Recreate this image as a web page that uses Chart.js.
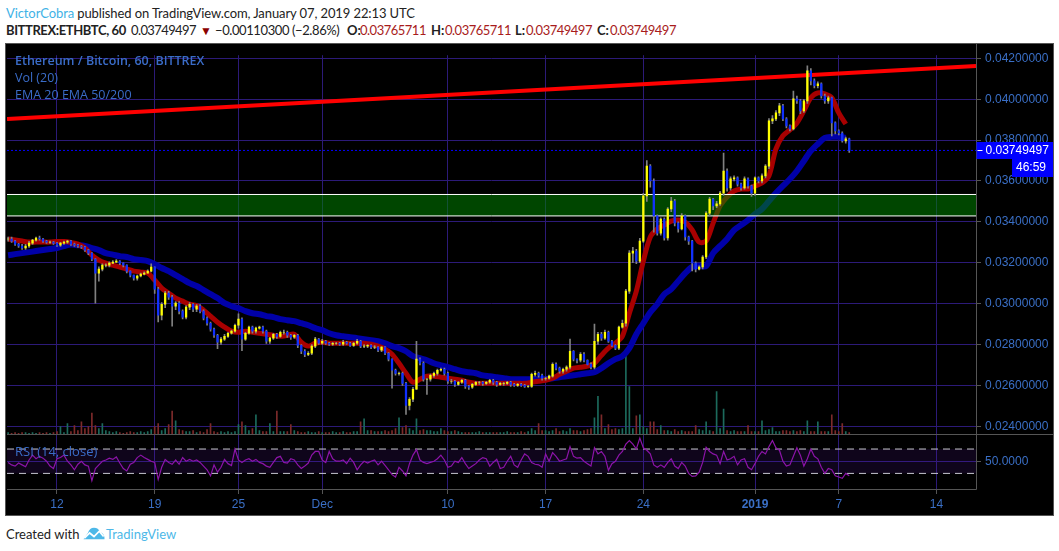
<!DOCTYPE html>
<html>
<head>
<meta charset="utf-8">
<title>ETHBTC</title>
<script src="https://cdn.jsdelivr.net/npm/chart.js@4"></script>
<style>
  html, body { margin: 0; padding: 0; background: #fff; }
  body { width: 1059px; height: 551px; position: relative; overflow: hidden; font-family: Lato, sans-serif; color: #222; }
  #publish { position: absolute; left: 6px; top: 5px; white-space: nowrap; font-size: 13px; letter-spacing: -0.1px; }
  #publish b { font-weight: 400; color: #3fb2e6; }
  #quote span { position: absolute; top: 22px; font-size: 13px; white-space: nowrap; }
  #quote .bold { font-weight: 700; }
  #quote .title { letter-spacing: -0.4px; }
  #quote .num { letter-spacing: -0.6px; }
  #quote .change { letter-spacing: -0.4px; }
  #quote .red { color: #a81c1c; letter-spacing: -0.5px; }
  #quote .down { color: #8b0000; font-size: 12px; top: 23px; }
  #panel { position: absolute; left: 6px; top: 44px; width: 1047px; height: 471px; background: #000; }
  #frame { position: absolute; left: 5px; top: 43px; width: 1047px; height: 471px; border: 1px solid #555; pointer-events: none; }
  .study { position: absolute; left: 15px; color: #3a6cc8; font-size: 12.5px; white-space: nowrap; font-family: "Open Sans", sans-serif; }
  #footer { position: absolute; left: 6px; top: 526px; font-size: 13px; color: #222; white-space: nowrap; }
  #footer span { color: #4db8e8; font-size: 13px; position: absolute; left: 100px; top: 0; }
  #footer svg { position: absolute; left: 76px; top: 0; }
</style>
</head>
<body>
<div id="publish"><b>VictorCobra</b> published on TradingView.com, January 07, 2019 22:13 UTC</div>
<div id="quote">
  <span class="bold title" style="left:6px">BITTREX:ETHBTC, 60</span>
  <span class="num" style="left:131px">0.03749497</span>
  <span class="down" style="left:200px">&#9660;</span>
  <span class="change" style="left:215px">&minus;0.00110300 (&minus;2.86%)</span>
  <span class="bold" style="left:347px">O:</span><span class="red" style="left:360px">0.03765711</span>
  <span class="bold" style="left:431px">H:</span><span class="red" style="left:445px">0.03765711</span>
  <span class="bold" style="left:515px">L:</span><span class="red" style="left:526px">0.03749497</span>
  <span class="bold" style="left:597px">C:</span><span class="red" style="left:610px">0.03749497</span>
</div>
<div id="panel"><canvas id="ethChart" width="1047" height="471"></canvas></div>
<div id="frame"></div>
<div class="study" style="top:52px;font-weight:600">Ethereum / Bitcoin, 60, BITTREX</div>
<div class="study" style="top:69px">Vol (20)</div>
<div class="study" style="top:86px">EMA 20 EMA 50/200</div>
<div class="study" style="top:442px;font-size:13px">RSI (14, close)</div>
<div id="footer">Created with
  <svg width="24" height="14" viewBox="0 0 26 16"><path d="M1 15 L6 8 Q8 2 13 2 Q18 2 20 7 Q25 8 25 15 Z" fill="#4db8e8"/><path d="M2 14 L8 8 L13 12 L19 6 L24 12" fill="none" stroke="#fff" stroke-width="2"/></svg>
  <span>TradingView</span>
</div>
<script>
// Hourly chart read back at one candle every 6 hours
const firstDay = 8.5;   // Nov 8, midday
const candleStep = 0.25;
const closes = [.03316,.03306,.03291,.03282,.03272,.03282,.03296,.03311,.03321,.03316,.03306,.03301,.03301,.03296,.03286,.03296,.03301,.03306,.03291,.03286,.03282,.03277,.03262,.03247,.03218,.03149,.03169,.03188,.03188,.03198,.03203,.03208,.03198,.03188,.03159,.03139,.03125,.03135,.03144,.03149,.03159,.03179,.03071,.02943,.02997,.03051,.03032,.02988,.03002,.02963,.02934,.02983,.02997,.02973,.02988,.02963,.02929,.02904,.02875,.02845,.02811,.02826,.0284,.02855,.02865,.02894,.02924,.02826,.02855,.02885,.02865,.0288,.02885,.02865,.02816,.02831,.0285,.0284,.0286,.0286,.02845,.02836,.02845,.02796,.02767,.02752,.02757,.02792,.02826,.02806,.02816,.02806,.02801,.02806,.02806,.02801,.02811,.02806,.02796,.02806,.02816,.02792,.02792,.02796,.02787,.02787,.02772,.02787,.02757,.02728,.02674,.02659,.02659,.0261,.02502,.02532,.02581,.02728,.02708,.0263,.0263,.02649,.02659,.02674,.02679,.02659,.0262,.0262,.02605,.02615,.02625,.02595,.02591,.02605,.02615,.02615,.0261,.02615,.02625,.02615,.02605,.0261,.0261,.02615,.02605,.026,.02605,.026,.02595,.02595,.02654,.02659,.02649,.02635,.02635,.02645,.02703,.02684,.02669,.02679,.02689,.02767,.02728,.02723,.02752,.02723,.02703,.02689,.02816,.0285,.02831,.0286,.02816,.02796,.02782,.02885,.02904,.03061,.03247,.03257,.03208,.03306,.03527,.03673,.036,.03429,.03345,.03414,.03321,.03463,.03502,.03394,.03365,.03429,.03326,.03306,.03198,.03169,.03179,.03228,.03443,.03512,.03478,.03488,.03541,.03649,.03566,.0361,.03615,.03585,.03566,.0361,.03576,.03541,.03615,.036,.03625,.03673,.03894,.03904,.03933,.03968,.03904,.0387,.03855,.04002,.03992,.03943,.03992,.04139,.0409,.04066,.04075,.04016,.03992,.04007,.03884,.03845,.03835,.03796,.03806,.03749];
const highs = [.03325,.03325,.0331,.03295,.0329,.0329,.03305,.03315,.03326,.0333,.0332,.0331,.03306,.03305,.033,.033,.03306,.0331,.0331,.03296,.0329,.03285,.0328,.03265,.0325,.0322,.0318,.03195,.03195,.03205,.0321,.03215,.0321,.032,.0319,.0316,.0314,.0314,.0315,.03155,.03165,.03195,.0318,.0308,.03005,.0306,.0306,.0304,.0301,.0301,.0297,.0299,.03005,.03,.02995,.02995,.0297,.02935,.0291,.0288,.0285,.02835,.0285,.0286,.0287,.029,.0295,.0293,.0286,.0289,.0289,.02885,.0289,.0289,.0287,.02835,.02855,.02855,.02865,.0287,.02865,.0285,.0285,.0285,.028,.02775,.02765,.028,.02835,.0283,.02825,.0282,.0281,.0281,.0281,.0281,.0282,.02815,.0281,.0281,.02825,.0282,.028,.028,.028,.02795,.0279,.0279,.0279,.0276,.0273,.0268,.02665,.02665,.02615,.0254,.0259,.02816,.02735,.02715,.02635,.02655,.02665,.0268,.02685,.02685,.02665,.0263,.02625,.0262,.0263,.0263,.026,.0261,.0262,.0262,.0262,.0262,.0263,.0263,.0262,.02615,.02615,.0262,.0262,.0261,.0261,.0261,.02605,.026,.0266,.0267,.02665,.02655,.0264,.0265,.0271,.0271,.0269,.02685,.02695,.02826,.0277,.0273,.0276,.0276,.02725,.0271,.029,.0286,.0286,.0287,.02865,.0282,.028,.0289,.0292,.0307,.0326,.03275,.03265,.0332,.0354,.037,.0368,.0361,.03435,.0342,.0342,.0347,.0352,.0351,.034,.0344,.03435,.0333,.0331,.03205,.03185,.03235,.0345,.0352,.03515,.035,.0355,.03737,.0366,.0362,.03625,.0362,.0359,.0362,.03615,.0358,.0362,.0362,.03635,.0368,.03905,.0392,.03945,.0398,.03975,.0391,.03875,.0404,.04015,.04,.04,.04163,.0415,.041,.04085,.0408,.04025,.04015,.0401,.0389,.0385,.0384,.03815,.0381];
const lows = [.03305,.033,.03285,.03275,.03265,.03265,.03275,.0329,.03305,.0331,.033,.03295,.03295,.0329,.0328,.0328,.0329,.03295,.03285,.0328,.03275,.0327,.03255,.0324,.0321,.03002,.0311,.0316,.0318,.0318,.03195,.032,.0319,.0318,.0315,.0313,.03115,.03115,.0313,.0314,.0315,.03155,.0305,.0291,.0292,.0298,.0302,.0289,.0297,.0295,.02925,.02925,.0297,.0296,.0296,.02955,.0292,.02895,.02865,.02835,.0278,.028,.0282,.02835,.0285,.0286,.0288,.0277,.0282,.0285,.02855,.02855,.02875,.02855,.02805,.02805,.02825,.0283,.02835,.0285,.02835,.02825,.0283,.02785,.02755,.0274,.02745,.0275,.02785,.028,.028,.028,.02795,.02795,.028,.02795,.02795,.028,.0279,.0279,.028,.02785,.02785,.02785,.0278,.0278,.02765,.02765,.0275,.0272,.02586,.0265,.0265,.026,.02458,.0248,.0252,.0258,.027,.0262,.02556,.0262,.0264,.0265,.0267,.0265,.0261,.0261,.02595,.026,.0261,.02585,.0258,.02585,.026,.02605,.026,.02605,.0261,.02605,.02595,.026,.026,.02605,.02595,.02595,.02595,.02595,.0259,.0259,.0259,.02645,.0264,.02625,.02625,.0263,.0264,.02675,.0266,.0266,.0267,.0268,.0272,.0271,.02715,.02715,.027,.0268,.0268,.028,.0282,.02825,.0281,.0279,.02775,.02775,.0288,.0289,.0305,.032,.03195,.032,.033,.035,.0357,.0335,.03335,.03335,.0331,.0331,.0345,.0338,.0335,.0336,.0331,.0329,.0316,.03155,.03165,.0317,.0322,.0343,.0346,.0347,.0348,.0353,.0355,.03555,.036,.03575,.03555,.0356,.03565,.03525,.0353,.0359,.0359,.03615,.0366,.0388,.03895,.0392,.03895,.0386,.03845,.0385,.0398,.0393,.03935,.0398,.0407,.04055,.04055,.04005,.0398,.0398,.0382,.0383,.03825,.0379,.03785,.0374];
// Volume under the candles
const volumes = [20,10,20,10,20,20,10,20,10,20,10,20,10,20,30,80,20,110,30,90,40,130,60,80,220,90,60,110,40,30,20,30,20,10,20,30,20,20,30,20,30,50,80,110,40,60,100,240,140,50,40,30,30,40,20,30,20,50,110,30,20,30,20,30,20,30,100,130,90,40,60,200,40,30,30,110,30,240,30,30,30,100,40,30,20,20,30,20,20,30,20,20,20,30,20,20,30,20,20,30,30,130,160,40,40,30,30,30,40,30,40,60,170,70,90,60,40,160,40,50,40,40,30,30,60,40,30,30,40,30,20,20,20,20,20,30,20,20,20,20,20,20,20,30,20,20,20,30,20,30,60,40,110,40,40,30,40,60,30,40,30,60,40,40,30,40,50,60,170,390,200,60,100,50,60,50,60,800,490,60,190,200,80,60,130,130,50,90,40,40,30,50,30,40,30,30,30,90,50,40,130,40,30,440,60,260,40,30,40,30,30,30,90,30,30,30,140,40,50,70,30,30,40,40,30,40,30,40,30,140,30,30,130,30,30,30,200,40,30,110,30,20];
const rsiValues = [48,44,42,47,44,41,52,60,54,58,55,50,42,38,54,56,60,50,44,36,45,50,44,42,18,38,44,50,52,55,53,57,47,38,34,45,48,56,60,56,53,50,48,20,40,53,48,45,52,45,56,50,53,50,52,48,42,36,26,44,32,40,53,46,43,70,52,48,52,54,50,53,48,46,42,40,48,56,58,48,47,54,52,44,38,42,47,60,66,66,52,48,66,54,50,50,52,46,55,48,36,44,50,47,50,52,44,50,43,36,28,24,40,34,26,46,60,69,52,48,46,48,50,54,60,52,40,42,50,48,56,46,38,42,46,52,56,54,42,48,53,38,40,50,58,44,40,52,62,58,48,45,44,40,62,50,64,58,50,52,54,74,58,55,56,50,46,42,72,62,66,58,35,46,50,60,66,78,84,78,70,88,72,68,62,44,40,44,40,48,54,42,38,48,42,30,25,26,32,48,73,66,62,60,46,66,52,54,58,44,52,54,40,36,46,58,66,62,74,84,72,68,50,42,44,58,72,60,42,54,70,58,54,40,30,38,36,26,24,22,30,26];

// EMAs, one reading every 12 hours
const emaStep = 0.5;
const emaFast = [.03316,.03311,.03306,.03301,.03301,.03301,.03301,.03304,.03304,.03299,.03291,.03272,.03237,.03213,.03198,.03188,.03179,.03169,.03159,.03154,.03149,.03115,.03076,.03051,.03027,.03012,.02997,.0299,.02968,.02939,.02909,.02885,.02865,.0286,.02865,.0286,.02855,.0285,.02845,.0284,.02845,.0285,.02811,.02792,.02806,.02811,.02806,.02806,.02806,.02806,.02806,.02806,.02801,.02792,.02777,.02752,.02708,.02659,.02615,.0263,.02645,.02645,.0264,.02635,.0263,.02625,.02615,.0261,.0261,.0261,.0261,.0261,.0261,.0261,.0261,.02615,.0262,.02625,.02635,.02654,.02669,.02684,.02689,.02694,.02708,.02747,.02782,.02806,.0284,.02953,.03061,.03208,.03326,.03365,.03384,.03404,.03409,.03399,.0336,.03301,.03306,.03394,.03478,.03522,.03551,.03561,.03561,.03576,.0359,.03625,.03757,.03821,.0385,.03884,.03943,.04007,.04031,.04026,.04007,.03933,.03879];
const emaSlow = [.03237,.03242,.03247,.03252,.03257,.03262,.03267,.03272,.03282,.03289,.03286,.03282,.03272,.03262,.03247,.0324,.03232,.03228,.03218,.03213,.03208,.03193,.03174,.03159,.03139,.0312,.031,.03086,.03066,.03046,.03027,.03002,.02988,.02978,.02963,.02953,.02948,.02939,.02934,.02924,.02919,.02914,.02904,.02894,.0288,.0287,.02855,.02845,.0284,.02836,.02831,.02826,.02821,.02816,.02806,.02792,.02782,.02767,.02743,.02733,.02723,.02708,.02698,.02689,.02679,.02669,.02664,.02659,.02649,.02645,.0264,.02635,.0263,.0263,.0263,.0263,.0263,.0263,.02635,.0264,.02645,.02649,.02654,.02659,.02664,.02684,.02708,.02728,.02743,.02782,.0285,.02904,.02958,.02997,.03046,.03071,.0311,.03149,.03179,.03184,.03184,.03247,.03282,.03316,.0336,.03384,.03409,.03438,.03463,.03502,.03541,.03576,.0361,.03649,.03698,.03747,.03781,.03811,.03816,.03816,.03811];

// Trend line and the green zone, left and right end of the plot
const trendLine = [.03903, .04163];
const zoneLow = .03429;
const zoneHigh = .03534;
const lastPrice = .03749497;

// Axes
const priceTicks = [.024,.026,.028,.03,.032,.034,.036,.038,.04,.042];
const rsiTicks = [50];
const tickDays = [12,19,25,31,40,47,54,62,68,75];
const tickLabels = ['12','19','25','Dec','10','17','24','2019','7','14'];
const dayMin = 8.42, dayMax = 77.83;

const gridColor = '#2c1a78';
const axisColor = '#555555';
const labelColor = '#3a6fc6';

const candleDay = i => firstDay + i * candleStep;
const opens = closes.map((c, i) => i === 0 ? c : closes[i - 1]);
const isUp = closes.map((c, i) => c >= opens[i]);

function bars(values, keep) {
    const out = [];
    values.forEach((v, i) => { if (keep(i)) out.push({ x: candleDay(i), y: v }); });
    return out;
}
const bodies = closes.map((c, i) => [opens[i], c]);
const wicks = closes.map((c, i) => [lows[i], highs[i]]);
const emaPoints = arr => arr.map((v, i) => ({ x: firstDay + i * emaStep, y: v }));
const flat = v => [{ x: dayMin, y: v }, { x: dayMax, y: v }];

// Frame lines between the panes, and the price tag on the axis
const paneFrame = {
    id: 'paneFrame',
    afterDraw(chart) {
        const { ctx, chartArea, scales } = chart;
        ctx.save();
        ctx.strokeStyle = axisColor;
        ctx.lineWidth = 1;
        ctx.beginPath();
        const mid = Math.round(scales.y.bottom) + 0.5;
        const bottom = Math.round(chartArea.bottom) + 0.5;
        const right = Math.round(chartArea.right) + 0.5;
        ctx.moveTo(chartArea.left, mid); ctx.lineTo(chart.width, mid);
        ctx.moveTo(chartArea.left, bottom); ctx.lineTo(right, bottom);
        ctx.moveTo(right, 0); ctx.lineTo(right, bottom);
        ctx.stroke();

        const tagY = Math.round(scales.y.getPixelForValue(lastPrice));
        ctx.fillStyle = '#0000ff';
        ctx.fillRect(right, tagY - 8, chart.width - right, 17);
        ctx.fillRect(chart.width - 41, tagY + 9, 41, 18);
        ctx.fillStyle = '#fff';
        ctx.fillRect(right + 1, tagY, 5, 1);
        ctx.font = '12px "Liberation Sans"';
        ctx.textBaseline = 'middle';
        ctx.fillText(lastPrice.toFixed(8), right + 9, tagY + 1);
        ctx.fillText('46:59', chart.width - 37, tagY + 18);
        ctx.restore();
    }
};

const ctx = document.getElementById('ethChart').getContext('2d');
const ethChart = new Chart(ctx, {
    type: 'bar',
    data: {
        datasets: [
            // candles stay on top of everything else
            { label: 'Up', data: bars(bodies, i => isUp[i]), backgroundColor: '#ffff00', barThickness: 1.6, grouped: false, yAxisID: 'y', order: 1 },
            { label: 'Down', data: bars(bodies, i => !isUp[i]), backgroundColor: '#1030ff', barThickness: 1.6, grouped: false, yAxisID: 'y', order: 1 },
            { label: 'Wick', data: bars(wicks, () => true), backgroundColor: '#808080', barThickness: 1, grouped: false, yAxisID: 'y', order: 2 },
            // green zone, filled between its two white edges
            { type: 'line', label: 'Zone low', data: flat(zoneLow), borderColor: '#ffffff', borderWidth: 1, pointRadius: 0, yAxisID: 'y', order: 3 },
            { type: 'line', label: 'Zone high', data: flat(zoneHigh), borderColor: '#ffffff', borderWidth: 1, pointRadius: 0, fill: '-1', backgroundColor: 'rgba(0, 128, 0, 0.55)', yAxisID: 'y', order: 3 },
            { type: 'line', label: 'Trend', data: [{ x: dayMin, y: trendLine[0] }, { x: dayMax, y: trendLine[1] }], borderColor: '#ff0000', borderWidth: 4, pointRadius: 0, yAxisID: 'y', order: 4 },
            { type: 'line', label: 'EMA 20', data: emaPoints(emaFast), borderColor: '#a80000', borderWidth: 5, pointRadius: 0, tension: 0.3, yAxisID: 'y', order: 5 },
            { type: 'line', label: 'EMA 50', data: emaPoints(emaSlow), borderColor: '#0000a8', borderWidth: 6, pointRadius: 0, tension: 0.3, yAxisID: 'y', order: 6 },
            { type: 'line', label: 'Last', data: flat(lastPrice), borderColor: '#0000ff', borderWidth: 1, borderDash: [2, 2], pointRadius: 0, yAxisID: 'y', order: 6 },
            { label: 'Vol up', data: bars(volumes, i => isUp[i]), backgroundColor: '#1c6a5c', barThickness: 1, grouped: false, yAxisID: 'yVol', order: 7 },
            { label: 'Vol down', data: bars(volumes, i => !isUp[i]), backgroundColor: '#7c2a2a', barThickness: 1, grouped: false, yAxisID: 'yVol', order: 7 },
            // RSI pane
            { type: 'line', label: 'RSI', data: bars(rsiValues, () => true), borderColor: '#8c14a8', borderWidth: 1.2, pointRadius: 0, yAxisID: 'yRsi', order: 1 },
            { type: 'line', label: 'RSI 30', data: flat(30), borderColor: '#c8c8d0', borderWidth: 1, borderDash: [7, 5], pointRadius: 0, yAxisID: 'yRsi', order: 8 },
            { type: 'line', label: 'RSI 70', data: flat(70), borderColor: '#c8c8d0', borderWidth: 1, borderDash: [7, 5], pointRadius: 0, fill: '-1', backgroundColor: 'rgba(90, 30, 160, 0.17)', yAxisID: 'yRsi', order: 8 }
        ]
    },
    options: {
        responsive: false,
        animation: false,
        layout: { padding: { left: 1 }, autoPadding: false },
        plugins: {
            legend: { display: false },
            tooltip: { enabled: false }
        },
        scales: {
            x: {
                type: 'linear',
                offset: false,
                min: dayMin,
                max: dayMax,
                afterBuildTicks: scale => { scale.ticks = tickDays.map(d => ({ value: d })); },
                afterFit: scale => { scale.height = 26; },
                ticks: {
                    autoSkip: false,
                    maxRotation: 0,
                    color: labelColor,
                    padding: 3,
                    font: c => ({ family: '"Liberation Sans"', size: 12, weight: c.tick && c.tick.value === 62 ? 'bold' : 'normal' }),
                    callback: value => tickLabels[tickDays.indexOf(value)]
                },
                grid: { offset: false, color: gridColor, tickColor: axisColor, tickLength: 5 },
                border: { display: false }
            },
            y: {
                position: 'right',
                stack: 'panes',
                stackWeight: 389,
                min: .0236,
                max: .042155,
                afterBuildTicks: scale => { scale.ticks = priceTicks.map(v => ({ value: v })); },
                afterFit: scale => { scale.width = 77; },
                ticks: {
                    color: labelColor,
                    padding: 4,
                    font: { family: '"Liberation Sans"', size: 12 },
                    callback: value => value.toFixed(8)
                },
                grid: { color: gridColor, tickColor: axisColor, tickLength: 5 },
                border: { display: false }
            },
            yRsi: {
                position: 'right',
                stack: 'panes',
                stackWeight: 56,
                min: 4.4,
                max: 94,
                afterBuildTicks: scale => { scale.ticks = rsiTicks.map(v => ({ value: v })); },
                afterFit: scale => { scale.width = 77; },
                ticks: {
                    color: labelColor,
                    padding: 4,
                    font: { family: '"Liberation Sans"', size: 12 },
                    callback: value => value.toFixed(4)
                },
                grid: { color: gridColor, tickColor: axisColor, tickLength: 5 },
                border: { display: false }
            },
            // volume shares the price pane, sitting on its bottom edge
            yVol: {
                display: false,
                position: 'right',
                min: -560,
                max: 3890
            }
        }
    },
    plugins: [paneFrame]
});
</script>
</body>
</html>
